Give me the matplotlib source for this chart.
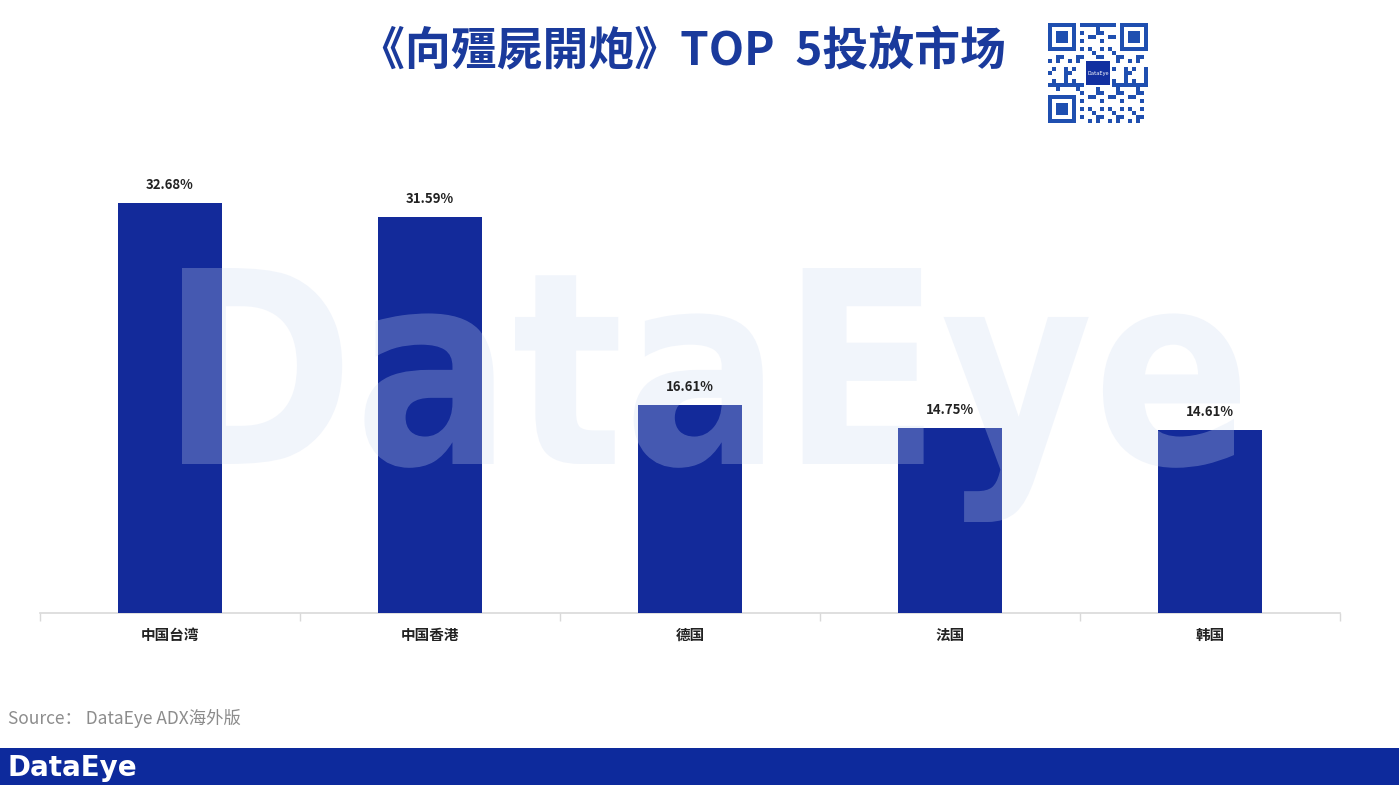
import matplotlib
matplotlib.use("Agg")
import matplotlib.pyplot as plt
from matplotlib.patches import Rectangle, PathPatch
from matplotlib.textpath import TextPath
from matplotlib.font_manager import FontProperties
from matplotlib.transforms import Affine2D, IdentityTransform
import numpy as np

plt.rcParams['font.family'] = ['Noto Sans CJK SC', 'DejaVu Sans']

categories = ["中国台湾", "中国香港", "德国", "法国", "韩国"]
values = [32.68, 31.59, 16.61, 14.75, 14.61]
labels = ["32.68%", "31.59%", "16.61%", "14.75%", "14.61%"]
title = "《向殭屍開炮》TOP  5投放市场"
source = "Source： DataEye ADX海外版"

W, H = 1399, 785
fig = plt.figure(figsize=(W / 100, H / 100), dpi=100)
fig.patch.set_facecolor("white")

bar_color = "#132a9a"

# axes: x 40..1340, baseline y=613, top at y=150
ax_left, ax_right, ax_base, ax_top = 40, 1340, 613, 150
ax = fig.add_axes([ax_left / W, (H - ax_base) / H, (ax_right - ax_left) / W, (ax_base - ax_top) / H])
ax.set_facecolor("none")
px_per_unit = 410 / 32.68
ax.set_ylim(0, (ax_base - ax_top) / px_per_unit)
ax.set_xlim(-0.5, len(categories) - 0.5)

x = np.arange(len(categories))
ax.bar(x, values, width=0.4, color=bar_color, zorder=3)
for xi, v, lab in zip(x, values, labels):
    ax.annotate(lab, (xi, v), xytext=(0, 8), textcoords="offset points",
                ha="center", va="bottom", fontsize=9.5, fontweight="bold", color="#222222",
                zorder=6)

for s in ["top", "right", "left"]:
    ax.spines[s].set_visible(False)
ax.spines["bottom"].set_color("#d9d9d9")
ax.spines["bottom"].set_linewidth(1.2)
ax.set_yticks([])
ax.set_xticks(x)
ax.set_xticklabels(categories, fontsize=10.5, fontweight="bold", color="#222222")
ax.tick_params(axis="x", length=0, pad=10)
ax.set_xticks(np.arange(-0.5, len(categories)), minor=True)
ax.tick_params(axis="x", which="minor", length=6, color="#d9d9d9", width=1)

# watermark, fitted into pixel box (y measured from bottom)
tp = TextPath((0, 0), "DataEye", size=100, prop=FontProperties(family="DejaVu Sans", weight="bold"))
ext = tp.get_extents()
bx0, bx1 = 182, 1240
by_top, by_bot = 268, 522
sx = (bx1 - bx0) / ext.width
sy = (by_bot - by_top) / ext.height
tr = Affine2D().translate(-ext.x0, -ext.y0).scale(sx, sy).translate(bx0, H - by_bot)
wm = PathPatch(tr.transform_path(tp), fc="#cddbf2", ec="none", alpha=0.27,
               transform=IdentityTransform(), zorder=4, clip_on=False)
ax.add_artist(wm)

# title
fig.text(682 / W, 1 - 52 / H, title, fontsize=33, fontweight="bold", color="#1a3a9c",
         ha="center", va="center")

# QR-like logo
qa = fig.add_axes([1048 / W, 1 - 123 / H, 100 / W, 100 / H])
qa.set_xlim(0, 25); qa.set_ylim(0, 25); qa.axis("off")
qc = "#1f4fb0"
for i in range(25):
    for j in range(25):
        if (i < 8 and j < 8) or (i < 8 and j > 16) or (i > 16 and j < 8):
            continue
        if 9 <= i <= 15 and 9 <= j <= 15:
            continue
        if (i * 7 + j * 3 + (i * j) % 5) % 3 == 0:
            qa.add_patch(Rectangle((j, 24 - i), 1, 1, color=qc, lw=0))
for (cx, cy) in [(0, 18), (18, 18), (0, 0)]:
    qa.add_patch(Rectangle((cx, cy), 7, 7, fc=qc, ec="none"))
    qa.add_patch(Rectangle((cx + 1, cy + 1), 5, 5, fc="white", ec="none"))
    qa.add_patch(Rectangle((cx + 2, cy + 2), 3, 3, fc=qc, ec="none"))
qa.add_patch(Rectangle((9.5, 9.5), 6, 6, fc="#1230a0", ec="none"))
qa.text(12.5, 12.5, "DataEye", color="white", fontsize=4, ha="center", va="center")

# source
fig.text(8 / W, 1 - 718 / H, source, fontsize=12.5, color="#8c8c8c", ha="left", va="center")

# footer band
fig.patches.append(Rectangle((0, 0), 1, 37 / H, transform=fig.transFigure,
                             fc="#0d2a9c", ec="none", zorder=1))
fig.text(8 / W, 1 - 768 / H, "DataEye", fontsize=20, fontweight="bold", color="white",
         ha="left", va="center", family="DejaVu Sans", zorder=2)

fig.savefig("out.png", dpi=100, facecolor="white")
